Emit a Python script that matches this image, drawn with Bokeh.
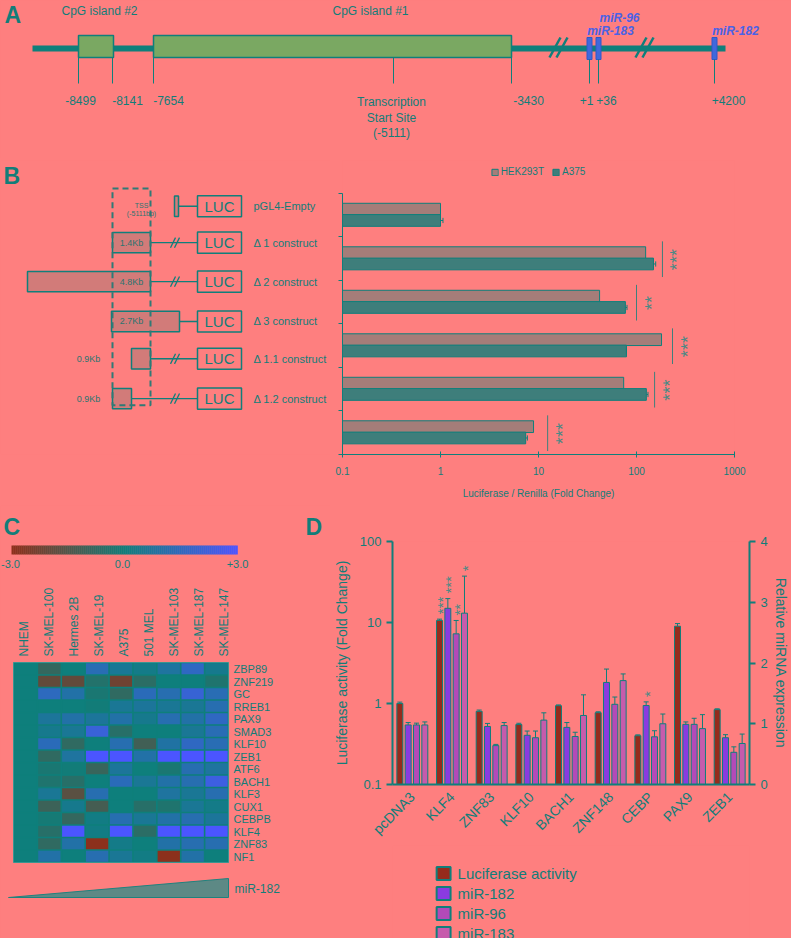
import numpy as np
from math import pi
from bokeh.plotting import figure
from bokeh.layouts import column, row
from bokeh.models import (Range1d, FactorRange, LinearAxis, LinearScale, ColumnDataSource,
                          FixedTicker, NumeralTickFormatter, GlobalInlineStyleSheet)
from bokeh.transform import dodge, linear_cmap
from bokeh.core.properties import value
from bokeh.embed import file_html
from bokeh.resources import INLINE

# ---------------- data ----------------
# Panel A (schematic of the miR-183-96-182 locus)
site_labels = ["-8499", "-8141", "-7654", "-3430", "+1", "+36", "+4200"]
cpg_names = ["CpG island #2", "CpG island #1"]
mir_names = ["miR-96", "miR-183", "miR-182"]
tss_text = ["Transcription", "Start Site", "(-5111)"]

# Panel B (luciferase reporter constructs)
constructs = ["pGL4-Empty", "\u0394 1 construct", "\u0394 2 construct", "\u0394 3 construct",
              "\u0394 1.1 construct", "\u0394 1.2 construct"]
fragment_sizes = ["", "1.4Kb", "4.8Kb", "2.7Kb", "0.9Kb", "0.9Kb"]
hek293t = [1.0, 124, 42, 180, 74, 8.9]
a375 = [1.0, 149, 77, 79, 126, 7.4]
a375_err = [0.06, 8, 3, 0.0, 5, 0.3]
sig_stars = ["", "***", "**", "***", "***", "***"]
sig_at = [None, 184, 100, 233, 153, 12.4]

# Panel C (heatmap, log2 fold change vs NHEM)
cell_lines = ["NHEM", "SK-MEL-100", "Hermes 2B", "SK-MEL-19", "A375", "501 MEL",
              "SK-MEL-103", "SK-MEL-187", "SK-MEL-147"]
genes = ["ZBP89", "ZNF219", "GC", "RREB1", "PAX9", "SMAD3", "KLF10", "ZEB1", "ATF6",
         "BACH1", "KLF3", "CUX1", "CEBPB", "KLF4", "ZNF83", "NF1"]
expression = [
    [0, -0.9, 0.0, 1.3, 0.6, 0.3, 0.8, 1.6, 0.4],
    [0, -2.0, -2.0, -0.5, -2.3, -0.7, 0.0, 0.0, -0.4],
    [0, 1.5, 1.0, -0.3, -0.8, 1.4, 1.2, 2.0, 1.3],
    [0, 0.0, 0.0, -0.1, 0.6, 0.7, 0.6, 0.6, 1.2],
    [0, 0.7, 1.0, 0.7, 1.0, 0.4, 1.2, 1.0, 1.6],
    [0, 0.4, 0.6, 2.1, -0.6, 0.0, 0.0, 0.6, 1.3],
    [0, 1.4, -0.8, 0.0, 1.2, -1.2, 0.9, 1.6, 1.3],
    [0, -0.8, 0.8, 3.0, 3.0, 1.0, 3.0, 3.0, 3.0],
    [0, -0.3, -0.1, -1.0, 0.7, 0.0, -0.3, 1.2, 0.8],
    [0, -0.4, -0.6, 0.0, 1.4, 0.6, 1.0, 1.2, 2.3],
    [0, 0.6, -1.8, 1.2, 0.0, 0.0, 0.8, 0.6, 1.2],
    [0, -1.1, 0.4, -1.3, 0.0, -0.6, -0.4, 0.6, 0.3],
    [0, -0.2, -0.9, 0.2, 1.2, 0.6, 1.0, 1.2, 0.7],
    [0, -0.6, 3.0, 0.2, 3.0, -0.7, 3.0, 3.0, 3.0],
    [0, -0.8, 1.0, -3.0, 0.3, 0.0, 1.0, 1.2, 1.2],
    [0, 1.0, 0.0, 1.2, 0.6, 0.2, -3.0, 1.0, 0.0],
]
scale_ticks = ["-3.0", "0.0", "+3.0"]

# Panel D (TF overexpression)
tfs = ["pcDNA3", "KLF4", "ZNF83", "KLF10", "BACH1", "ZNF148", "CEBP", "PAX9", "ZEB1"]
luc = [1.0, 10.6, 0.80, 0.55, 0.94, 0.77, 0.40, 9.0, 0.84]
luc_err = [0.04, 0.4, 0.03, 0.02, 0.02, 0.02, 0.01, 0.7, 0.02]
m182 = [0.98, 2.90, 0.955, 0.81, 0.94, 1.68, 1.30, 0.99, 0.77]
m182_err = [0.04, 0.16, 0.05, 0.07, 0.08, 0.22, 0.06, 0.04, 0.05]
m96 = [0.98, 2.48, 0.64, 0.77, 0.79, 1.32, 0.785, 0.99, 0.53]
m96_err = [0.03, 0.22, 0.02, 0.11, 0.07, 0.12, 0.10, 0.10, 0.09]
m183 = [0.98, 2.82, 0.97, 1.06, 1.136, 1.71, 1.00, 0.92, 0.675]
m183_err = [0.05, 0.61, 0.05, 0.12, 0.34, 0.11, 0.16, 0.23, 0.155]
luc_stars = ["", "***", "", "", "", "", "", "", ""]
m182_stars = ["", "***", "", "", "", "", "*", "", ""]
m96_stars = ["", "**", "", "", "", "", "", "", ""]
m183_stars = ["", "*", "", "", "", "", "", "", ""]
series_names = ["Luciferase activity", "miR-182", "miR-96", "miR-183"]

# ---------------- style ----------------
BG = "#fe7f7f"
TEAL = "#0f7f7b"
TXT = "#127d79"
GREEN = "#7aa862"
MIRBLUE = "#4068dc"
BOXFILL = "#d27b79"
HEKC = "#a57d79"
A375C = "#3e7e7b"
STAR = "#4a8985"
SERIES_COLORS = ["#952b1c", "#8a3be0", "#b34ab8", "#c65bac"]
FONT = "Liberation Sans"


def canvas(w, h, x0, y0):
    p = figure(width=w, height=h, x_range=Range1d(x0, x0 + w), y_range=Range1d(y0 + h, y0),
               toolbar_location=None, output_backend="svg", min_border=0,
               x_axis_location=None, y_axis_location=None, outline_line_color=None,
               background_fill_color=BG, border_fill_color=BG)
    p.grid.visible = False
    return p


def put_text(p, xs, ys, texts, size, color=TXT, align="center", baseline="middle",
             style="normal", angle=0.0):
    p.text(x=list(xs), y=list(ys), text=list(texts), text_font=value(FONT),
           text_font_size=size, text_color=color, text_align=align,
           text_baseline=baseline, text_font_style=style, angle=angle)


# ================= Panel A =================
pA = canvas(791, 158, 0, 0)
put_text(pA, [4], [14], ["A"], "23px", style="bold", align="left")
line_y = 48
pA.segment(x0=[32], y0=[line_y], x1=[725], y1=[line_y], line_width=6, line_color=TEAL)
cpg_left = [78, 153]
cpg_right = [113, 511]
pA.quad(left=cpg_left, right=cpg_right, top=[35, 35], bottom=[57, 57],
        fill_color=GREEN, line_color=TEAL, line_width=1.5)
put_text(pA, [99, 370], [10, 10], cpg_names, "12px")
mir_px = [589, 598, 714]
pA.quad(left=[x - 2.5 for x in mir_px], right=[x + 2.5 for x in mir_px],
        top=[37] * 3, bottom=[59] * 3, fill_color=MIRBLUE, line_color="#2f58c8", line_width=1)
put_text(pA, [619, 610, 735], [17, 30, 30], mir_names, "12px", color="#4b62e6",
         style="bold italic")
site_px = [78, 112, 153, 511, 589, 598, 714]
pA.segment(x0=site_px + [393], y0=[57] * 4 + [59] * 3 + [57], x1=site_px + [393],
           y1=[83] * 8, line_color=TEAL, line_width=1)
put_text(pA, [80, 127, 168, 528, 586, 606, 728], [100] * 7, site_labels, "12px")
put_text(pA, [391] * 3, [101, 117, 132], tss_text, "12px")
for b in [549, 635]:
    pA.segment(x0=[b, b + 7], y0=[57, 57], x1=[b + 11, b + 18], y1=[37, 37],
               line_color=TEAL, line_width=2.5)

# ================= Panel B (diagram) =================
pB1 = canvas(330, 347, 0, 158)
put_text(pB1, [3], [176], ["B"], "23px", style="bold", align="left")
row_y = [212, 255, 301, 348, 392, 439]
frag_left = [174, 112, 27, 111, 131, 112]
frag_right = [178, 150, 150, 179, 150, 131]
has_break = [False, True, True, False, True, True]
pB1.segment(x0=frag_right, y0=row_y, x1=[197] * 6, y1=row_y, line_color=TEAL, line_width=1.3)
pB1.quad(left=frag_left, right=frag_right, top=[y - 12 for y in row_y],
         bottom=[y + 12 for y in row_y], fill_color=BOXFILL, line_color=TEAL, line_width=1.5)
bx, by = [], []
for y, hb in zip(row_y, has_break):
    if hb:
        bx.append(173)
        by.append(y)
pB1.segment(x0=[x - 3 for x in bx], y0=[y + 6 for y in by], x1=[x + 2 for x in bx],
            y1=[y - 6 for y in by], line_color=TEAL, line_width=1.3)
pB1.segment(x0=[x + 1 for x in bx], y0=[y + 6 for y in by], x1=[x + 6 for x in bx],
            y1=[y - 6 for y in by], line_color=TEAL, line_width=1.3)
pB1.quad(left=[197] * 6, right=[241] * 6, top=[y - 12.5 for y in row_y],
         bottom=[y + 12.5 for y in row_y], fill_color=None, line_color=TEAL, line_width=1.5)
put_text(pB1, [219] * 6, row_y, ["LUC"] * 6, "15px")
put_text(pB1, [253] * 6, row_y, constructs, "11px", align="left")
size_x = [131, 131, 131, 131, 88, 88]
put_text(pB1, size_x[1:], row_y[1:], fragment_sizes[1:], "9px", color="#2c7470")
pB1.quad(left=[112], right=[150], top=[191], bottom=[447], fill_color=None,
         line_color="#2f7a76", line_width=2, line_dash="6 4")
put_text(pB1, [141, 141], [211, 221], ["TSS", "(-5111bp)"], "7px", color="#2c7470")

# ================= Panel B (bars) =================
pB2 = figure(width=461, height=347, x_axis_type="log", x_range=Range1d(0.1, 1000),
             y_range=Range1d(6, -0.7586), toolbar_location=None, output_backend="svg",
             min_border_left=12, min_border_right=57, min_border_top=2, min_border_bottom=51,
             outline_line_color=None, background_fill_color=BG, border_fill_color=BG)
pB2.grid.visible = False
idx = np.arange(len(constructs))
srcB = ColumnDataSource(dict(y_h=idx + 0.36, y_a=idx + 0.62, hek=hek293t, a=a375,
                             a_hi=[v + e for v, e in zip(a375, a375_err)],
                             cap0=idx + 0.56, cap1=idx + 0.68))
pB2.hbar(y="y_h", left=0.1, right="hek", height=0.27, fill_color=HEKC, line_color=TEAL,
         line_width=1, source=srcB, legend_label="HEK293T")
pB2.hbar(y="y_a", left=0.1, right="a", height=0.27, fill_color=A375C, line_color=TEAL,
         line_width=1, source=srcB, legend_label="A375")
pB2.segment(x0="a", y0="y_a", x1="a_hi", y1="y_a", line_color=TEAL, source=srcB)
pB2.segment(x0="a_hi", y0="cap0", x1="a_hi", y1="cap1", line_color=TEAL, source=srcB)
sig_rows = [i for i, s in enumerate(sig_at) if s is not None]
pB2.segment(x0=[sig_at[i] for i in sig_rows], y0=[i + 0.1 for i in sig_rows],
            x1=[sig_at[i] for i in sig_rows], y1=[i + 0.92 for i in sig_rows],
            line_color="#3f7f7c", line_width=1)
pB2.text(x=[sig_at[i] for i in sig_rows], y=[i + 0.52 for i in sig_rows],
         text=[sig_stars[i] for i in sig_rows], x_offset=15, angle=pi / 2,
         text_align="center", text_baseline="middle", text_font=value(FONT),
         text_font_size="18px", text_color=STAR)
lg = pB2.legend[0]
lg.location = "top"
lg.orientation = "horizontal"
lg.background_fill_alpha = 0
lg.border_line_color = None
lg.label_text_font = FONT
lg.label_text_font_size = "10px"
lg.label_text_color = TXT
lg.glyph_width = 8
lg.glyph_height = 8
lg.label_height = 10
lg.label_standoff = 2
lg.spacing = 8
lg.padding = 2
lg.margin = 6
xa = pB2.xaxis[0]
xa.ticker = FixedTicker(ticks=[0.1, 1, 10, 100, 1000])
xa.formatter = NumeralTickFormatter(format="0.[0]")
xa.axis_label = "Luciferase / Renilla (Fold Change)"
xa.axis_label_text_font = FONT
xa.axis_label_text_font_style = "normal"
xa.axis_label_text_font_size = "10px"
xa.axis_label_text_color = TXT
xa.axis_label_standoff = 10
xa.major_label_text_font = FONT
xa.major_label_text_font_size = "10px"
xa.major_label_text_color = TXT
xa.major_label_standoff = 9
xa.axis_line_color = TEAL
xa.major_tick_line_color = TEAL
xa.major_tick_in = 3
xa.major_tick_out = 3
xa.minor_tick_line_color = None
ya = pB2.yaxis[0]
ya.ticker = FixedTicker(ticks=list(range(7)))
ya.major_label_overrides = {i: "" for i in range(7)}
ya.major_label_text_font_size = "0px"
ya.major_label_standoff = 0
ya.bounds = (0, 6)
ya.axis_line_color = TEAL
ya.major_tick_line_color = TEAL
ya.major_tick_in = 0
ya.major_tick_out = 4
ya.minor_tick_line_color = None

# ================= Panel C =================
pC = canvas(330, 433, 0, 505)
put_text(pC, [3], [526], ["C"], "23px", style="bold", align="left")
put_text(pC, [305], [526], ["D"], "23px", style="bold", align="left")


def lerp(c1, c2, t):
    return tuple(int(round(a + (b - a) * t)) for a, b in zip(c1, c2))


low, mid, high = (140, 48, 28), (14, 127, 123), (75, 85, 255)
palette = []
for k in range(256):
    t = k / 255 * 2 - 1
    c = lerp(mid, low, -t) if t < 0 else lerp(mid, high, t)
    palette.append("#%02x%02x%02x" % c)

nsl = 113
sl_v = np.linspace(-3, 3, nsl)
sl_w = 226 / nsl
pC.quad(left=[11 + k * sl_w for k in range(nsl)], right=[11 + (k + 1) * sl_w + 0.3 for k in range(nsl)],
        top=[545] * nsl, bottom=[554] * nsl,
        fill_color=[palette[int(round((v + 3) / 6 * 255))] for v in sl_v], line_color=None)
put_text(pC, [10, 122, 237], [563] * 3, scale_ticks, "11px")

hx0, hy0, cw, ch = 13, 662, 215 / 9, 12.5
pC.quad(left=[hx0], right=[hx0 + 9 * cw], top=[hy0], bottom=[hy0 + 16 * ch],
        fill_color="#0e7f7b", line_color="#3a9490", line_width=1)
cx, cy, cv = [], [], []
for i, g in enumerate(genes):
    for j, c in enumerate(cell_lines):
        cx.append(hx0 + (j + 0.5) * cw)
        cy.append(hy0 + (i + 0.5) * ch)
        cv.append(expression[i][j])
srcC = ColumnDataSource(dict(x=cx, y=cy, v=cv))
pC.rect(x="x", y="y", width=cw - 1.6, height=ch - 1.6, source=srcC,
        fill_color=linear_cmap("v", palette, -3, 3), line_color=None)
put_text(pC, [hx0 + 9 * cw + 5] * len(genes), [hy0 + (i + 0.5) * ch + 0.5 for i in range(len(genes))],
         genes, "11px", align="left")
put_text(pC, [23 + 25 * j for j in range(len(cell_lines))], [656] * len(cell_lines), cell_lines,
         "12px", align="left", angle=pi / 2)
pC.patch(x=[8, 228, 228], y=[897, 878, 897], fill_color="#5d8985", line_color="#1f827e",
         line_width=1)
put_text(pC, [234], [888], ["miR-182"], "12px", align="left")

# ================= Panel D =================
pD = figure(width=461, height=340, x_range=FactorRange(factors=tfs), y_axis_type="log",
            y_range=Range1d(0.1, 100), extra_y_ranges={"mir": Range1d(0, 4)},
            extra_y_scales={"mir": LinearScale()}, toolbar_location=None, output_backend="svg",
            min_border_left=59, min_border_right=37, min_border_top=36, min_border_bottom=61,
            outline_line_color=None, background_fill_color=BG, border_fill_color=BG)
pD.grid.visible = False
series_vals = [luc, m182, m96, m183]
series_err = [luc_err, m182_err, m96_err, m183_err]
series_stars = [luc_stars, m182_stars, m96_stars, m183_stars]
offsets = [-0.315, -0.105, 0.105, 0.315]
dd = dict(tf=tfs)
for k in range(4):
    dd["v%d" % k] = series_vals[k]
    dd["hi%d" % k] = [v + e for v, e in zip(series_vals[k], series_err[k])]
    dd["st%d" % k] = series_stars[k]
srcD = ColumnDataSource(dd)
for k in range(4):
    xk = dodge("tf", offsets[k], range=pD.x_range)
    kw = {} if k == 0 else {"y_range_name": "mir"}
    bottom = 0.1 if k == 0 else 0
    pD.segment(x0=xk, y0="v%d" % k, x1=xk, y1="hi%d" % k, line_color=TEAL, line_width=1,
               source=srcD, **kw)
    pD.scatter(x=xk, y="hi%d" % k, marker="dash", size=5, line_color=TEAL, line_width=1,
               source=srcD, **kw)
    pD.vbar(x=xk, top="v%d" % k, bottom=bottom, width=0.15, fill_color=SERIES_COLORS[k],
            line_color=TEAL, line_width=1, source=srcD, **kw)
    pD.text(x=xk, y="hi%d" % k, text="st%d" % k, y_offset=-5, x_offset=3, angle=pi / 2,
            text_align="left", text_baseline="middle", text_font=value(FONT),
            text_font_size="15px", text_color=STAR, source=srcD, **kw)

ly = pD.yaxis[0]
ly.ticker = FixedTicker(ticks=[0.1, 1, 10, 100])
ly.formatter = NumeralTickFormatter(format="0.[0]")
ly.axis_label = "Luciferase activity (Fold Change)"
ry = LinearAxis(y_range_name="mir", ticker=FixedTicker(ticks=[0, 1, 2, 3, 4]),
                axis_label="Relative miRNA expression")
pD.add_layout(ry, "right")
for ax in [ly, ry]:
    ax.axis_line_color = TEAL
    ax.axis_line_width = 2
    ax.major_tick_line_color = TEAL
    ax.major_tick_line_width = 2
    ax.major_tick_in = 0
    ax.major_tick_out = 6
    ax.minor_tick_line_color = None
    ax.major_label_text_font = FONT
    ax.major_label_text_font_size = "13px"
    ax.major_label_text_color = TXT
    ax.axis_label_text_font = FONT
    ax.axis_label_text_font_style = "normal"
    ax.axis_label_text_font_size = "14px"
    ax.axis_label_text_color = TXT
ly.axis_label_standoff = 7
ry.axis_label_standoff = 2
bx_ = pD.xaxis[0]
bx_.axis_line_color = TEAL
bx_.axis_line_width = 2
bx_.major_tick_line_color = None
bx_.minor_tick_line_color = None
bx_.major_label_orientation = pi / 4
bx_.major_label_text_font = FONT
bx_.major_label_text_font_size = "14px"
bx_.major_label_text_color = TXT
bx_.major_label_standoff = 4

# legend for D
pDL = canvas(461, 93, 330, 845)
leg_y = [873, 893, 913, 933]
pDL.quad(left=[387] * 4, right=[405] * 4, top=[y - 6.5 for y in leg_y],
         bottom=[y + 6.5 for y in leg_y], fill_color=SERIES_COLORS, line_color=TEAL,
         line_width=2)
put_text(pDL, [414] * 4, leg_y, series_names, "15px", align="left")

layout = column(pA, row(pB1, pB2), row(pC, column(pD, pDL)))
layout.stylesheets = [GlobalInlineStyleSheet(css="html, body { background-color: #fe7f7f; }")]

html = file_html(layout, INLINE)
open("out.html", "w").write(html)
